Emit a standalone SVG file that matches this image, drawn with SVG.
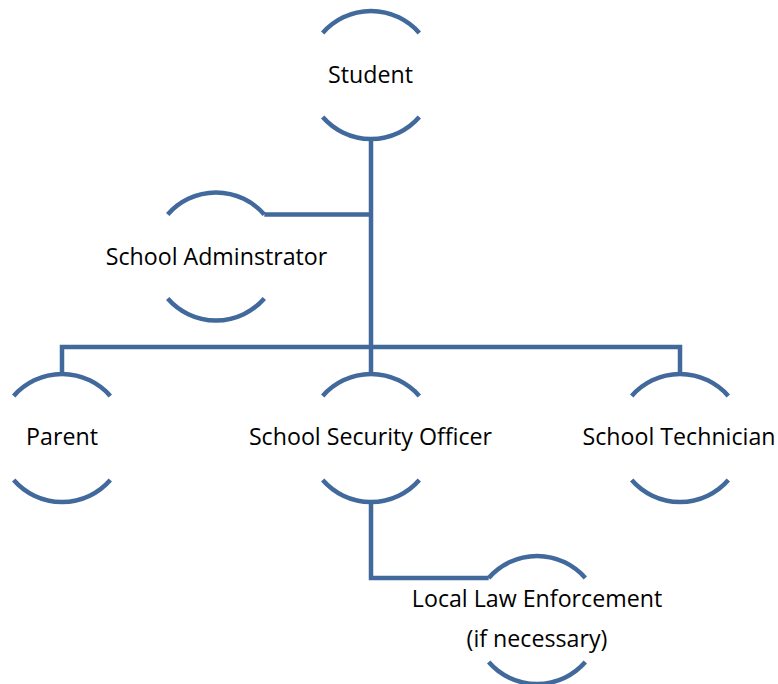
<svg xmlns="http://www.w3.org/2000/svg" width="778" height="684" viewBox="0 0 778 684">
<style>
.arc{fill:none;stroke:#41699C;stroke-width:4.5}
.con{fill:none;stroke:#41699C;stroke-width:4.5;stroke-linejoin:miter}
.lbl{font-family:"Open Sans","Noto Sans",sans-serif;font-size:23.2px;fill:#000;text-anchor:middle}
</style>
<rect width="778" height="684" fill="#fff"/>
<g id="connectors">
<path class="con" d="M371 139 V347"/>
<path class="con" d="M264.3 214.5 H371"/>
<path class="con" d="M62 374 V347 H680 V374"/>
<path class="con" d="M371 347 V374"/>
<path class="con" d="M371 502 V578 H488.7"/>
</g>
<g id="student">
<path class="arc" d="M322.7 33 A64 64 0 0 1 419.3 33"/>
<path class="arc" d="M322.7 117 A64 64 0 0 0 419.3 117"/>
<text class="lbl" x="370.5" y="83">Student</text>
</g>
<g id="admin">
<path class="arc" d="M167.7 214.5 A64 64 0 0 1 264.3 214.5"/>
<path class="arc" d="M167.7 298.5 A64 64 0 0 0 264.3 298.5"/>
<text class="lbl" x="216.5" y="265">School Adminstrator</text>
</g>
<g id="parent">
<path class="arc" d="M13.7 396 A64 64 0 0 1 110.3 396"/>
<path class="arc" d="M13.7 480 A64 64 0 0 0 110.3 480"/>
<text class="lbl" x="62" y="445">Parent</text>
</g>
<g id="security">
<path class="arc" d="M322.7 396 A64 64 0 0 1 419.3 396"/>
<path class="arc" d="M322.7 480 A64 64 0 0 0 419.3 480"/>
<text class="lbl" x="370.5" y="445">School Security Officer</text>
</g>
<g id="technician">
<path class="arc" d="M631.7 396 A64 64 0 0 1 728.3 396"/>
<path class="arc" d="M631.7 480 A64 64 0 0 0 728.3 480"/>
<text class="lbl" x="679" y="445">School Technician</text>
</g>
<g id="law">
<path class="arc" d="M488.7 578 A64 64 0 0 1 585.3 578"/>
<path class="arc" d="M488.7 662 A64 64 0 0 0 585.3 662"/>
<text class="lbl" x="537" y="607">Local Law Enforcement</text>
<text class="lbl" x="537" y="647">(if necessary)</text>
</g>
</svg>
